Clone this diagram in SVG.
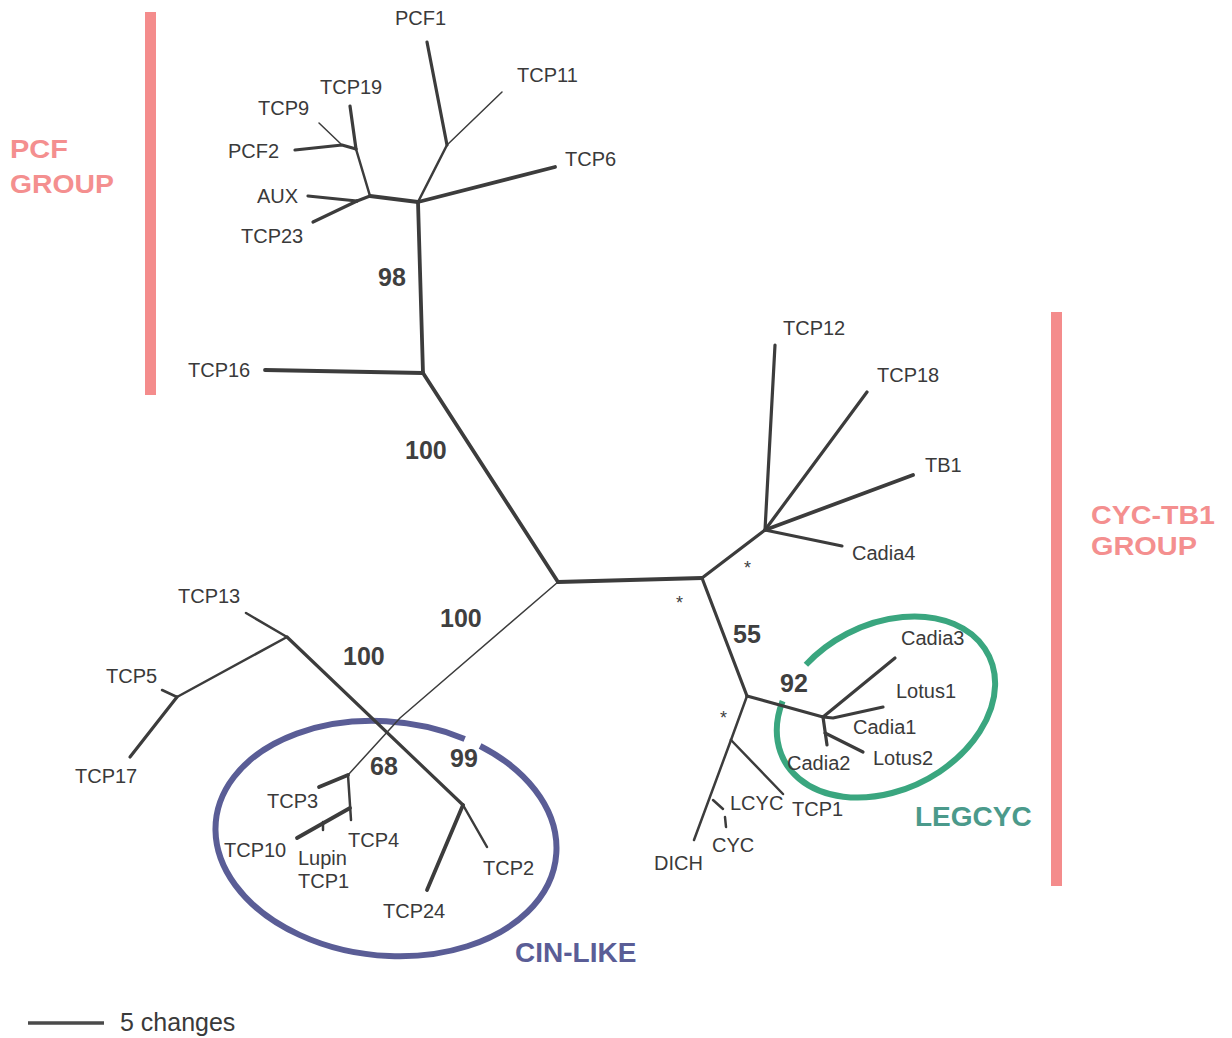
<svg xmlns="http://www.w3.org/2000/svg" width="1232" height="1038" viewBox="0 0 1232 1038">
  <defs>
    <style>
      .br { stroke: #3c3c3c; fill: none; stroke-linecap: round; stroke-linejoin: round; }
      .w1 { stroke-width: 1.5; }
      .w2 { stroke-width: 2.5; }
      .w3 { stroke-width: 3.2; }
      .w4 { stroke-width: 3.8; }
      .leaf { font-family: "Liberation Sans", Arial, sans-serif; font-size: 20px; fill: #3a3a3a; }
      .scale { font-family: "Liberation Sans", Arial, sans-serif; font-size: 25px; fill: #3a3a3a; }
      .boot { font-family: "Liberation Sans", Arial, sans-serif; font-size: 25px; font-weight: bold; fill: #3f3f3f; }
      .star { font-family: "Liberation Sans", Arial, sans-serif; font-size: 18px; fill: #3f3f3f; }
      .grp { font-family: "Liberation Sans", Arial, sans-serif; font-size: 26px; font-weight: bold; fill: #f48f8f; }
      .bar { fill: #f48c8c; }
    </style>
  </defs>
  <rect width="1232" height="1038" fill="#ffffff"/>

  <!-- group bars and group names -->
  <g id="pcf-group">
    <rect class="bar" x="145" y="12" width="11" height="383"/>
    <text class="grp" x="10" y="158" textLength="58" lengthAdjust="spacingAndGlyphs">PCF</text>
    <text class="grp" x="10" y="193" textLength="104" lengthAdjust="spacingAndGlyphs">GROUP</text>
  </g>
  <g id="cyc-tb1-group">
    <rect class="bar" x="1051" y="312" width="11" height="574"/>
    <text class="grp" x="1091" y="524" textLength="124" lengthAdjust="spacingAndGlyphs">CYC-TB1</text>
    <text class="grp" x="1091" y="555" textLength="106" lengthAdjust="spacingAndGlyphs">GROUP</text>
  </g>

  <!-- clade outlines -->
  <g id="cin-like">
    <path d="M 480.1,746 A 171 117 6 1 1 464.7,738.9" fill="none" stroke="#5a5d96" stroke-width="6"/>
    <text x="515" y="962" font-family="Liberation Sans, Arial, sans-serif" font-size="28" font-weight="bold" fill="#5a5d96">CIN-LIKE</text>
  </g>
  <g id="legcyc">
    <path d="M 805.9,664.8 A 115 83 -27 1 1 782.6,701.1" fill="none" stroke="#3aa67f" stroke-width="6"/>
    <text x="915" y="826" font-family="Liberation Sans, Arial, sans-serif" font-size="28" font-weight="bold" fill="#4b9a8b">LEGCYC</text>
  </g>

  <!-- tree branches -->
  <g id="connectors">
    <!-- PCF clade -->
    <line class="br w3" x1="427" y1="42" x2="447" y2="145"/>
    <line class="br w1" x1="502" y1="92" x2="447" y2="145"/>
    <line class="br w2" x1="447" y1="145" x2="418" y2="202"/>
    <line class="br w4" x1="555" y1="167" x2="418" y2="202"/>
    <line class="br w4" x1="418" y1="202" x2="370" y2="196"/>
    <line class="br w2" x1="370" y1="196" x2="356" y2="149"/>
    <line class="br w3" x1="356" y1="149" x2="350" y2="106"/>
    <polyline class="br w3" points="295,150 342,145 356,149"/>
    <line class="br w1" x1="319" y1="123" x2="342" y2="145"/>
    <line class="br w3" x1="308" y1="196" x2="357" y2="201"/>
    <line class="br w3" x1="313" y1="222" x2="357" y2="201"/>
    <line class="br w3" x1="357" y1="201" x2="370" y2="196"/>
    <line class="br w4" x1="418" y1="202" x2="423" y2="373"/>
    <line class="br w4" x1="265" y1="370" x2="423" y2="373"/>
    <line class="br w4" x1="423" y1="373" x2="558" y2="582"/>
    <!-- CYC-TB1 clade -->
    <line class="br w4" x1="558" y1="582" x2="702" y2="578"/>
    <line class="br w3" x1="702" y1="578" x2="765" y2="530"/>
    <line class="br w3" x1="765" y1="530" x2="775" y2="345"/>
    <line class="br w3" x1="765" y1="530" x2="867" y2="392"/>
    <line class="br w4" x1="765" y1="530" x2="913" y2="475"/>
    <line class="br w3" x1="765" y1="530" x2="842" y2="546"/>
    <line class="br w3" x1="702" y1="578" x2="747" y2="696"/>
    <line class="br w3" x1="747" y1="696" x2="823" y2="717"/>
    <line class="br w3" x1="823" y1="717" x2="895" y2="658"/>
    <polyline class="br w3" points="823,717 833,718 883,707"/>
    <line class="br w3" x1="823" y1="717" x2="827" y2="745"/>
    <line class="br w3" x1="825" y1="733" x2="863" y2="752"/>
    <line class="br w2" x1="747" y1="696" x2="731" y2="740"/>
    <line class="br w2" x1="731" y1="740" x2="783" y2="794"/>
    <line class="br w2" x1="731" y1="740" x2="694" y2="840"/>
    <line class="br w2" x1="713" y1="800" x2="723" y2="809"/>
    <line class="br w2" x1="725" y1="817" x2="726" y2="827"/>
    <!-- CIN clade and TCP13/5/17 -->
    <polyline class="br w1" points="558,582 400,718 348,775"/>
    <line class="br w3" x1="287" y1="637" x2="463" y2="805"/>
    <line class="br w2" x1="246" y1="613" x2="287" y2="637"/>
    <line class="br w2" x1="287" y1="637" x2="177" y2="697"/>
    <line class="br w2" x1="162" y1="690" x2="177" y2="697"/>
    <line class="br w3" x1="177" y1="697" x2="130" y2="757"/>
    <line class="br w2" x1="463" y1="805" x2="487" y2="847"/>
    <line class="br w4" x1="463" y1="805" x2="427" y2="890"/>
    <line class="br w4" x1="319" y1="787" x2="348" y2="775"/>
    <line class="br w2" x1="348" y1="775" x2="351" y2="820"/>
    <line class="br w4" x1="297" y1="838" x2="350" y2="808"/>
    <line class="br w2" x1="323" y1="822" x2="323" y2="830"/>
    <!-- scale bar -->
    <line x1="28" y1="1023" x2="104" y2="1023" stroke="#4a4a4a" stroke-width="3.5"/>
  </g>

  <!-- taxon labels -->
  <g id="leaves">
    <text class="leaf" x="395" y="25">PCF1</text>
    <text class="leaf" x="517" y="82">TCP11</text>
    <text class="leaf" x="320" y="94">TCP19</text>
    <text class="leaf" x="258" y="115">TCP9</text>
    <text class="leaf" x="228" y="158">PCF2</text>
    <text class="leaf" x="565" y="166">TCP6</text>
    <text class="leaf" x="257" y="203">AUX</text>
    <text class="leaf" x="241" y="243">TCP23</text>
    <text class="leaf" x="188" y="377">TCP16</text>
    <text class="leaf" x="783" y="335">TCP12</text>
    <text class="leaf" x="877" y="382">TCP18</text>
    <text class="leaf" x="925" y="472">TB1</text>
    <text class="leaf" x="852" y="560">Cadia4</text>
    <text class="leaf" x="901" y="645">Cadia3</text>
    <text class="leaf" x="896" y="698">Lotus1</text>
    <text class="leaf" x="853" y="734">Cadia1</text>
    <text class="leaf" x="873" y="765">Lotus2</text>
    <text class="leaf" x="787" y="770">Cadia2</text>
    <text class="leaf" x="730" y="810">LCYC</text>
    <text class="leaf" x="792" y="816">TCP1</text>
    <text class="leaf" x="712" y="852">CYC</text>
    <text class="leaf" x="654" y="870">DICH</text>
    <text class="leaf" x="178" y="603">TCP13</text>
    <text class="leaf" x="106" y="683">TCP5</text>
    <text class="leaf" x="75" y="783">TCP17</text>
    <text class="leaf" x="267" y="808">TCP3</text>
    <text class="leaf" x="348" y="847">TCP4</text>
    <text class="leaf" x="224" y="857">TCP10</text>
    <text class="leaf" x="298" y="865">Lupin</text>
    <text class="leaf" x="298" y="888">TCP1</text>
    <text class="leaf" x="483" y="875">TCP2</text>
    <text class="leaf" x="383" y="918">TCP24</text>
    <text class="scale" x="120" y="1031">5 changes</text>
  </g>

  <!-- support values -->
  <g id="support">
    <text class="boot" x="378" y="286">98</text>
    <text class="boot" x="405" y="459">100</text>
    <text class="boot" x="440" y="627">100</text>
    <text class="boot" x="343" y="665">100</text>
    <text class="boot" x="733" y="643">55</text>
    <text class="boot" x="780" y="692">92</text>
    <text class="boot" x="370" y="775">68</text>
    <text class="boot" x="450" y="767">99</text>
    <text class="star" x="744" y="574">*</text>
    <text class="star" x="676" y="609">*</text>
    <text class="star" x="720" y="724">*</text>
  </g>
</svg>
